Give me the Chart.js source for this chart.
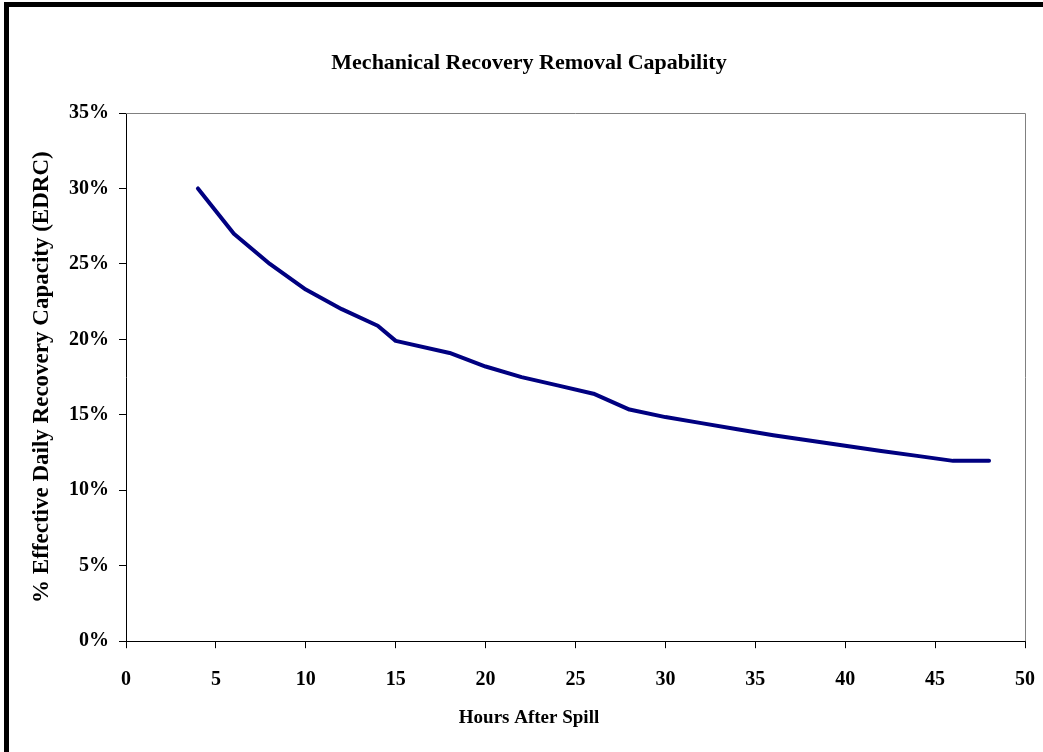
<!DOCTYPE html>
<html>
<head>
<meta charset="utf-8">
<script src="https://cdn.jsdelivr.net/npm/chart.js@4"></script>
<style>
  body { margin: 0; background: #fff; }
  #wrap { width: 1043px; height: 752px; }
</style>
</head>
<body>
<div id="wrap"><canvas id="myChart" width="1043" height="752"></canvas></div>
<script>
// hours after spill and % EDRC
let hours = [4, 6, 8, 10, 12, 14, 15, 18, 20, 22, 24, 26, 28, 30, 32, 34, 36, 38, 40, 42, 44, 46, 48];
let edrc = [30, 27, 25, 23.3, 22, 20.9, 19.9, 19.1, 18.2, 17.5, 16.95, 16.4, 15.35, 14.85, 14.45, 14.05, 13.65, 13.3, 12.95, 12.6, 12.28, 11.95, 11.95];

let chartTitle = "Mechanical Recovery Removal Capability";
let xTitle = "Hours After Spill";
let yTitle = "% Effective Daily Recovery Capacity (EDRC)";

const serif = "'Liberation Serif', 'Times New Roman', serif";

// black frame (top + left) and grey plot border (top + right)
const frame = {
  id: "frame",
  beforeDraw(chart) {
    const c = chart.ctx;
    c.save();
    c.fillStyle = "#000";
    c.fillRect(4, 2, 1039, 5);
    c.fillRect(4, 2, 5, 750);
    c.restore();
  },
  afterDatasetsDraw(chart) {
    const a = chart.chartArea;
    const c = chart.ctx;
    c.save();
    c.strokeStyle = "#808080";
    c.lineWidth = 1;
    c.beginPath();
    c.moveTo(a.left, a.top + 0.5);
    c.lineTo(a.right + 0.5, a.top + 0.5);
    c.lineTo(a.right + 0.5, a.bottom);
    c.stroke();
    c.restore();
  },
};

const ctx = document.getElementById("myChart");
const myChart = new Chart(ctx, {
  type: "line",
  data: {
    datasets: [
      {
        label: "EDRC",
        data: hours.map((h, i) => ({ x: h, y: edrc[i] })),
        borderColor: "#000080",
        borderWidth: 4,
        borderCapStyle: "round",
        borderJoinStyle: "round",
        pointRadius: 0,
        tension: 0,
        fill: false,
      },
    ],
  },
  options: {
    responsive: false,
    animation: false,
    layout: { padding: { top: 50, right: 18, left: 33, bottom: 0 } },
    plugins: {
      legend: { display: false },
      tooltip: { enabled: false },
      title: {
        display: true,
        text: chartTitle,
        color: "#000",
        font: { family: serif, size: 22, weight: "bold", lineHeight: 1.2 },
        padding: { top: 0, bottom: 36.6 },
      },
      // x axis caption, centred on the figure like the original
      subtitle: {
        display: true,
        position: "bottom",
        text: xTitle,
        color: "#000",
        font: { family: serif, size: 19, weight: "bold", lineHeight: 1.2 },
        padding: { top: 10, bottom: 23 },
      },
    },
    scales: {
      x: {
        type: "linear",
        min: 0,
        max: 50,
        ticks: {
          stepSize: 5,
          color: "#000",
          padding: 20,
          font: { family: serif, size: 20, weight: "bold" },
        },
        grid: { drawOnChartArea: false, color: "#000", tickLength: 7 },
        border: { color: "#000", width: 1 },
        afterFit(scale) {
          scale.height = 55;
          scale.paddingLeft = 0;
          scale.paddingRight = 0;
        },
      },
      y: {
        min: 0,
        max: 35,
        ticks: {
          stepSize: 5,
          color: "#000",
          padding: 10,
          callback: (v) => v + "%",
          font: { family: serif, size: 20, weight: "bold" },
        },
        grid: { drawOnChartArea: false, color: "#000", tickLength: 7 },
        border: { color: "#000", width: 1 },
        title: {
          display: true,
          text: yTitle,
          color: "#000",
          font: { family: serif, size: 23, weight: "bold", lineHeight: 1.2 },
          padding: { top: -4.8, bottom: 0 },
        },
        afterFit(scale) {
          scale.width = 93;
          scale.paddingTop = 0;
          scale.paddingBottom = 0;
        },
      },
    },
  },
  plugins: [frame],
});
</script>
</body>
</html>
